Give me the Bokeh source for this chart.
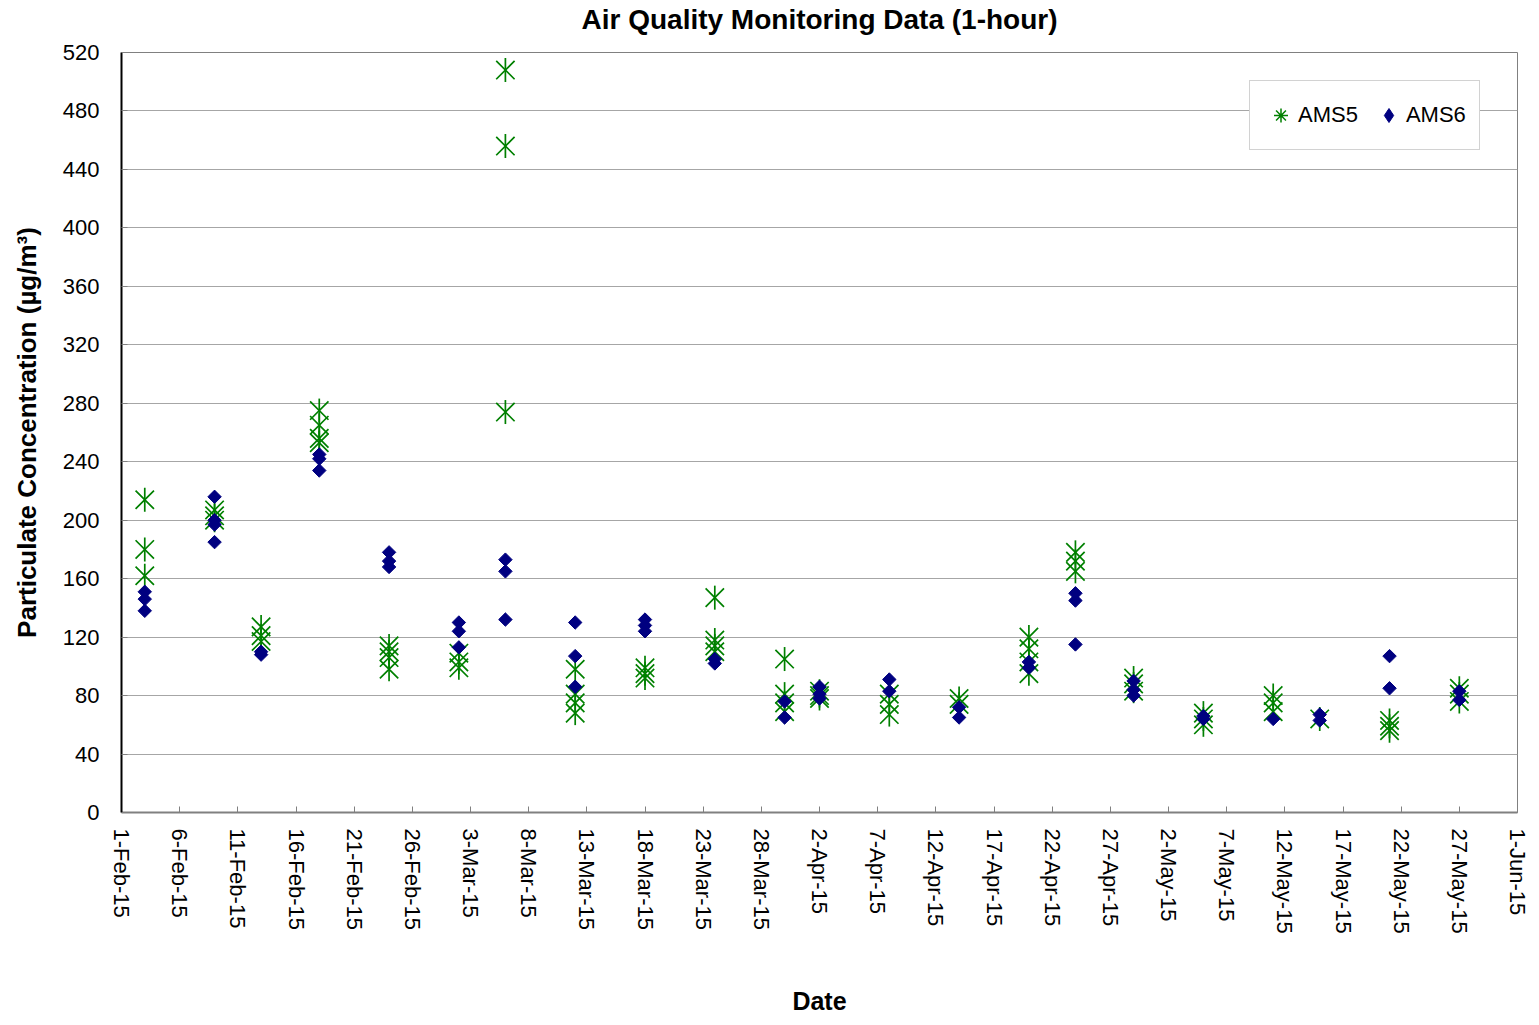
import math
from datetime import datetime
from bokeh.plotting import figure
from bokeh.models import FixedTicker, Legend, LegendItem, ColumnDataSource, Range1d, Title
from bokeh.embed import file_html
from bokeh.resources import INLINE

# ---- data ----
ams5_dates = (["2015-02-03"] * 3 + ["2015-02-09"] * 3 + ["2015-02-13"] * 3 + ["2015-02-18"] * 4 +
              ["2015-02-24"] * 4 + ["2015-03-02"] * 3 + ["2015-03-06"] * 3 + ["2015-03-12"] * 4 +
              ["2015-03-18"] * 3 + ["2015-03-24"] * 4 + ["2015-03-30"] * 4 + ["2015-04-02"] * 3 +
              ["2015-04-08"] * 3 + ["2015-04-14"] * 2 + ["2015-04-20"] * 4 + ["2015-04-24"] * 3 +
              ["2015-04-29"] * 3 + ["2015-05-05"] * 3 + ["2015-05-11"] * 3 + ["2015-05-15"] * 1 +
              ["2015-05-21"] * 3 + ["2015-05-27"] * 3)
ams5_values = [214, 180, 162,
               207, 203, 200,
               127, 121, 117,
               275, 265, 256, 253,
               114, 110, 106, 98,
               109, 103, 99,
               508, 456, 274,
               98, 81, 75, 68,
               99, 95, 92,
               147, 118, 114, 110,
               105, 81, 75, 69,
               83, 80, 78,
               81, 74, 67,
               78, 74,
               120, 112, 103, 95,
               178, 172, 165,
               92, 88, 83,
               68, 64, 60,
               80, 75, 69,
               64,
               63, 59, 56,
               85, 81, 76]

ams6_dates = (["2015-02-03"] * 3 + ["2015-02-09"] * 4 + ["2015-02-13"] * 2 + ["2015-02-18"] * 3 +
              ["2015-02-24"] * 3 + ["2015-03-02"] * 3 + ["2015-03-06"] * 3 + ["2015-03-12"] * 3 +
              ["2015-03-18"] * 3 + ["2015-03-24"] * 2 + ["2015-03-30"] * 2 + ["2015-04-02"] * 3 +
              ["2015-04-08"] * 2 + ["2015-04-14"] * 2 + ["2015-04-20"] * 2 + ["2015-04-24"] * 3 +
              ["2015-04-29"] * 3 + ["2015-05-05"] * 2 + ["2015-05-11"] * 1 + ["2015-05-15"] * 2 +
              ["2015-05-21"] * 2 + ["2015-05-27"] * 2)
ams6_values = [151, 146, 138,
               216, 200, 197, 185,
               110, 108,
               245, 242, 234,
               178, 172, 168,
               130, 124, 113,
               173, 165, 132,
               130, 107, 86,
               132, 128, 124,
               105, 102,
               76, 65,
               86, 81, 78,
               91, 83,
               72, 65,
               103, 99,
               150, 145, 115,
               90, 84, 80,
               66, 64,
               64,
               67, 63,
               107, 85,
               83, 77]

tick_dates = ["2015-02-01", "2015-02-06", "2015-02-11", "2015-02-16", "2015-02-21", "2015-02-26",
              "2015-03-03", "2015-03-08", "2015-03-13", "2015-03-18", "2015-03-23", "2015-03-28",
              "2015-04-02", "2015-04-07", "2015-04-12", "2015-04-17", "2015-04-22", "2015-04-27",
              "2015-05-02", "2015-05-07", "2015-05-12", "2015-05-17", "2015-05-22", "2015-05-27",
              "2015-06-01"]
tick_labels = ["1-Feb-15", "6-Feb-15", "11-Feb-15", "16-Feb-15", "21-Feb-15", "26-Feb-15",
               "3-Mar-15", "8-Mar-15", "13-Mar-15", "18-Mar-15", "23-Mar-15", "28-Mar-15",
               "2-Apr-15", "7-Apr-15", "12-Apr-15", "17-Apr-15", "22-Apr-15", "27-Apr-15",
               "2-May-15", "7-May-15", "12-May-15", "17-May-15", "22-May-15", "27-May-15",
               "1-Jun-15"]
y_ticks = [0, 40, 80, 120, 160, 200, 240, 280, 320, 360, 400, 440, 480, 520]


def to_dt(s):
    return datetime.strptime(s, "%Y-%m-%d")


def to_ms(s):
    return (to_dt(s) - datetime(1970, 1, 1)).total_seconds() * 1000.0


FONT = "Liberation Sans"
GREEN = "#008000"
NAVY = "#000080"

p = figure(width=1531, height=1017, x_axis_type="datetime",
           x_range=(to_dt(tick_dates[0]), to_dt(tick_dates[-1])), y_range=(0, 520),
           output_backend="svg", toolbar_location=None, title_location=None,
           min_border_left=121, min_border_right=14, min_border_top=52, min_border_bottom=202)

# spacer between frame and title, then the title itself
p.add_layout(Title(text=" ", text_font_size="14px", standoff=0), "above")
p.add_layout(Title(text="Air Quality Monitoring Data (1-hour)", align="center",
                   text_font=FONT, text_font_style="bold", text_font_size="28px",
                   text_color="black", standoff=0), "above")

p.outline_line_color = "#808080"
p.outline_line_width = 1
p.background_fill_color = "white"
p.border_fill_color = "white"

src5 = ColumnDataSource(dict(x=[to_dt(d) for d in ams5_dates], y=ams5_values))
src6 = ColumnDataSource(dict(x=[to_dt(d) for d in ams6_dates], y=ams6_values))

r5a = p.scatter("x", "y", source=src5, marker="x", size=26, line_color=GREEN, line_width=1.7)
r5b = p.scatter("x", "y", source=src5, marker="dash", angle=math.pi / 2, size=24,
                line_color=GREEN, line_width=1.7)
r6 = p.scatter("x", "y", source=src6, marker="square", angle=math.pi / 4, size=9.5,
               fill_color=NAVY, line_color=NAVY)

# legend glyph renderers: same data on a hidden range (legend draws markers unrotated)
p.extra_y_ranges = {"legend_only": Range1d(100000, 100001)}
l5 = p.scatter("x", "y", source=src5, marker="asterisk", size=10, line_color=GREEN,
               line_width=1.5, y_range_name="legend_only")
l6 = p.scatter("x", "y", source=src6, marker="diamond", size=10, fill_color=NAVY,
               line_color=NAVY, y_range_name="legend_only")

# axes
xa = p.xaxis[0]
xa.ticker = FixedTicker(ticks=[to_ms(d) for d in tick_dates])
xa.major_label_overrides = {to_ms(d): lab for d, lab in zip(tick_dates, tick_labels)}
xa.major_label_orientation = -math.pi / 2
xa.major_label_text_font = FONT
xa.major_label_text_font_size = "22px"
xa.major_label_text_color = "black"
xa.major_label_standoff = 16
xa.axis_line_color = "#808080"
xa.axis_line_width = 2
xa.major_tick_in = 6
xa.major_tick_out = 0
xa.major_tick_line_color = "#808080"
xa.minor_tick_line_color = None
xa.axis_label = "Date"
xa.axis_label_text_font = FONT
xa.axis_label_text_font_style = "bold"
xa.axis_label_text_font_size = "25px"
xa.axis_label_text_color = "black"
xa.axis_label_standoff = 50

ya = p.yaxis[0]
ya.ticker = FixedTicker(ticks=y_ticks)
ya.major_label_text_font = FONT
ya.major_label_text_font_size = "22px"
ya.major_label_text_color = "black"
ya.major_label_standoff = 22
ya.axis_line_color = "black"
ya.axis_line_width = 2
ya.major_tick_in = 6
ya.major_tick_out = 0
ya.major_tick_line_color = "#808080"
ya.minor_tick_line_color = None
ya.axis_label = "Particulate Concentration (µg/m³)"
ya.axis_label_text_font = FONT
ya.axis_label_text_font_style = "bold"
ya.axis_label_text_font_size = "26px"
ya.axis_label_text_color = "black"
ya.axis_label_standoff = 18

p.xgrid.grid_line_color = None
p.ygrid.ticker = FixedTicker(ticks=y_ticks)
p.ygrid.grid_line_color = "#a6a6a6"
p.ygrid.grid_line_width = 1

legend = Legend(items=[LegendItem(label="AMS5", renderers=[l5]),
                       LegendItem(label="AMS6", renderers=[l6])],
                orientation="horizontal", location=(1128, 662))
legend.label_text_font = FONT
legend.label_text_font_size = "22px"
legend.label_text_color = "black"
legend.border_line_color = "#a6a6a6"
legend.background_fill_color = "white"
legend.background_fill_alpha = 1.0
legend.padding = 13
legend.spacing = 13
legend.glyph_width = 35
legend.glyph_height = 42
legend.label_standoff = 0
legend.margin = 0
p.add_layout(legend, "center")

open("out.html", "w").write(file_html(p, INLINE))
